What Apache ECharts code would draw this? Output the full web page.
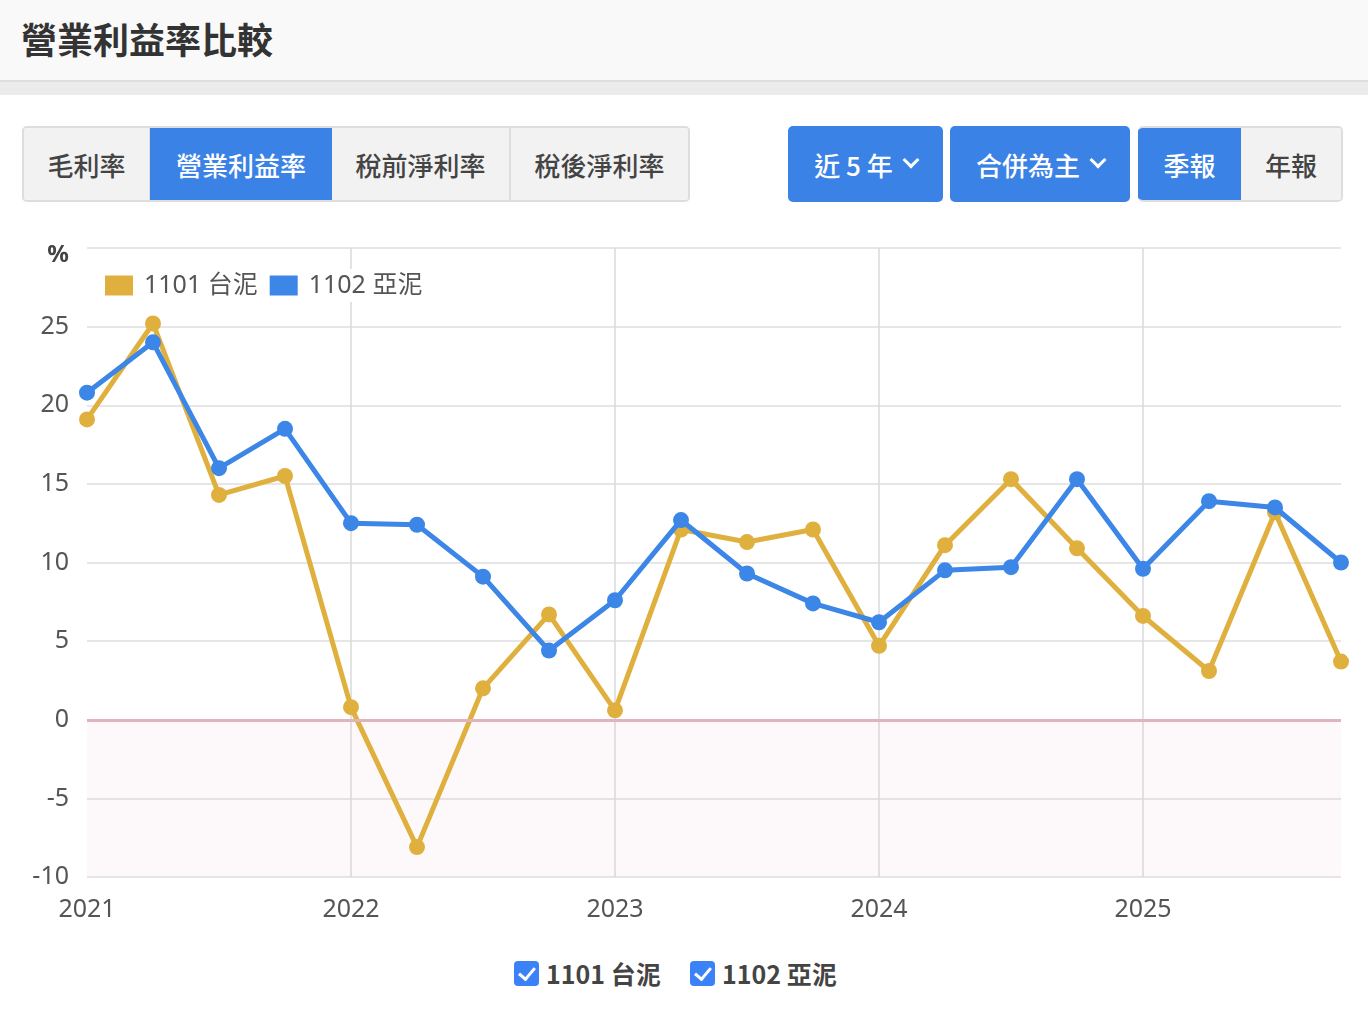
<!DOCTYPE html>
<html><head><meta charset="utf-8">
<script src="https://cdn.jsdelivr.net/npm/echarts@6/dist/echarts.min.js"></script>
<style>
body{margin:0;width:1368px;height:1018px;background:#fff;font-family:"Noto Sans","Noto Sans CJK TC",sans-serif;position:relative;overflow:hidden}
#hdr{position:absolute;left:0;top:0;width:1368px;height:80px;background:#f9f9f9;border-bottom:2px solid #dedede}
#hdr h1{margin:0;position:absolute;left:21px;top:15px;font-size:36px;font-weight:bold;color:#333;font-family:"Noto Sans CJK TC",sans-serif;line-height:46px}
#band{position:absolute;left:0;top:82px;width:1368px;height:13px;background:#ebebeb}
.grp{position:absolute;top:126px;height:76px;display:flex;border-radius:5px;overflow:hidden}
.btn{height:100%;display:flex;align-items:center;justify-content:center;font-size:26px;font-family:"Noto Sans CJK TC",sans-serif;color:#444;background:#f2f2f2;box-sizing:border-box;font-weight:500}
.on{background:#3b82e6;color:#fff}
.chev{display:inline-block;width:9px;height:9px;border-right:3px solid #fff;border-bottom:3px solid #fff;transform:rotate(45deg);margin-left:12px;margin-top:-8px}
#chart{position:absolute;left:0;top:220px;width:1368px;height:720px}
#chk{position:absolute;top:955px;left:0;width:1368px;height:36px}
.ck{position:absolute;top:0;display:flex;align-items:center;font-size:25px;font-weight:bold;color:#444;font-family:"Noto Sans CJK TC",sans-serif}
.box{width:25px;height:25px;background:#3b82f6;border-radius:4px;margin-right:7px;position:relative}
.box:after{content:"";position:absolute;left:8px;top:3px;width:7px;height:13px;border-right:3.5px solid #fff;border-bottom:3.5px solid #fff;transform:rotate(40deg)}
</style></head>
<body>
<div id="hdr"><h1>營業利益率比較</h1></div>
<div id="band"></div>
<div class="grp" style="left:22px;border:2px solid #ddd;width:668px;box-sizing:border-box;">
  <div class="btn" style="width:126px;border-right:1px solid #ddd">毛利率</div>
  <div class="btn on" style="width:182px">營業利益率</div>
  <div class="btn" style="width:179px;border-right:2px solid #ddd">稅前淨利率</div>
  <div class="btn" style="width:177px">稅後淨利率</div>
</div>
<div class="grp" style="left:788px;width:155px"><div class="btn on" style="width:155px">近 5 年<span class="chev"></span></div></div>
<div class="grp" style="left:950px;width:180px"><div class="btn on" style="width:180px">合併為主<span class="chev"></span></div></div>
<div class="grp" style="left:1138px;width:205px;border:2px solid #ddd;border-left:none;box-sizing:border-box">
  <div class="btn on" style="width:103px">季報</div>
  <div class="btn" style="width:100px">年報</div>
</div>
<div id="chart"></div>
<div id="chk">
  <div class="ck" style="left:514px"><div class="box"></div>1101 台泥</div>
  <div class="ck" style="left:690px"><div class="box"></div>1102 亞泥</div>
</div>
<script>
var categories = ['2021Q1','2021Q2','2021Q3','2021Q4','2022Q1','2022Q2','2022Q3','2022Q4','2023Q1','2023Q2','2023Q3','2023Q4','2024Q1','2024Q2','2024Q3','2024Q4','2025Q1','2025Q2','2025Q3','2025Q4'];
var taiwanCement = [19.1,25.2,14.3,15.5,0.8,-8.1,2.0,6.7,0.6,12.1,11.3,12.1,4.7,11.1,15.3,10.9,6.6,3.1,13.2,3.7];
var asiaCement = [20.8,24.0,16.0,18.5,12.5,12.4,9.1,4.4,7.6,12.7,9.3,7.4,6.2,9.5,9.7,15.3,9.6,13.9,13.5,10.0];
var seriesNames = ['1101 台泥','1102 亞泥'];
var yTicks = {min:-10, max:30, step:5};

var chart = echarts.init(document.getElementById('chart'));
var font = '"Noto Sans","Noto Sans CJK TC",sans-serif';
chart.setOption({
  animation:false,
  textStyle:{fontFamily:font},
  legend:{left:105,top:49,icon:'rect',itemWidth:28,itemHeight:20,itemGap:12,backgroundColor:'#fff',padding:[4,0,4,0],
    textStyle:{fontSize:25,color:'#555',fontFamily:font,padding:[0,0,0,6]},data:seriesNames},
  grid:{left:87,right:27,top:28,bottom:63},
  xAxis:{type:'category',data:categories,boundaryGap:false,
    axisLine:{show:false},axisTick:{show:false},
    axisLabel:{interval:3,fontSize:25,color:'#555',margin:20,formatter:function(v){return v.slice(0,4);}},
    splitLine:{show:true,interval:function(i){return i>0 && i%4===0;},lineStyle:{color:'#dadada',width:1.5}}},
  yAxis:{type:'value',min:yTicks.min,max:yTicks.max,interval:yTicks.step,
    axisLine:{show:false},axisTick:{show:false},
    axisLabel:{fontSize:25,color:'#555',margin:18,
      formatter:function(v){return v===yTicks.max?'{p|%}':String(v);},
      rich:{p:{fontSize:24,fontWeight:'bold',color:'#444',padding:[14,0,0,0]}}},
    splitLine:{lineStyle:{color:'#dedede',width:1.5}}},
  series:[
    {name:seriesNames[0],type:'line',data:taiwanCement,color:'#e0b03e',symbol:'circle',symbolSize:16,
      lineStyle:{width:5},z:3,
      markArea:{silent:true,itemStyle:{color:'rgba(235,170,185,0.08)'},data:[[{yAxis:yTicks.min},{yAxis:0}]]},
      markLine:{silent:true,symbol:'none',label:{show:false},lineStyle:{color:'#e0b4bd',width:3,type:'solid'},data:[{yAxis:0}]}},
    {name:seriesNames[1],type:'line',data:asiaCement,color:'#3b86e6',symbol:'circle',symbolSize:16,
      lineStyle:{width:5},z:4}
  ]
});
</script>
</body></html>
